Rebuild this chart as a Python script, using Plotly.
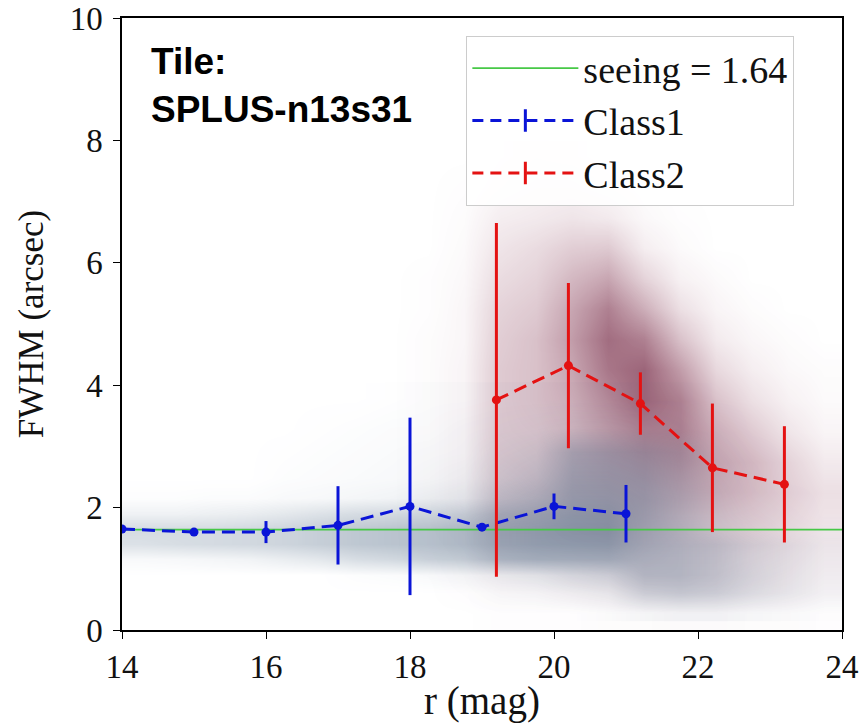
import plotly.graph_objects as go

# ---------------- data ----------------
seeing = 1.64
x_range = [14, 24]
y_range = [0, 10]
x_ticks = [14, 16, 18, 20, 22, 24]
y_ticks = [0, 2, 4, 6, 8, 10]

class1_r = [14, 15, 16, 17, 18, 19, 20, 21]
class1_fwhm = [1.65, 1.60, 1.60, 1.71, 2.02, 1.68, 2.02, 1.90]
class1_err = [0.0, 0.0, 0.18, 0.64, 1.45, 0.05, 0.21, 0.47]

class2_r = [19.2, 20.2, 21.2, 22.2, 23.2]
class2_fwhm = [3.76, 4.32, 3.70, 2.65, 2.38]
class2_err = [2.89, 1.35, 0.51, 1.05, 0.95]

# estimated point density of the background scatter clouds (read by eye)
grid_r = [14.25, 14.75, 15.25, 15.75, 16.25, 16.75, 17.25, 17.75, 18.25, 18.75,
          19.25, 19.75, 20.25, 20.75, 21.25, 21.75, 22.25, 22.75, 23.25, 23.75]
grid_fwhm_c1 = [0.3, 0.6, 0.9, 1.15, 1.4, 1.65, 1.9, 2.15, 2.5, 2.9, 3.3, 3.8]
density_c1 = [
    [0, 0, 0, 0, 0, 0, 0, 0, 0, 0, 0, 0, 0, 0.02, 0.06, 0.08, 0.08, 0.05, 0.03, 0.01],
    [0, 0, 0, 0, 0, 0, 0, 0, 0, 0, 0.03, 0.05, 0.08, 0.12, 0.3, 0.35, 0.3, 0.2, 0.12, 0.06],
    [0, 0, 0, 0, 0, 0, 0.02, 0.03, 0.05, 0.08, 0.12, 0.18, 0.25, 0.3, 0.45, 0.45, 0.35, 0.22, 0.12, 0.06],
    [0.05, 0.06, 0.08, 0.1, 0.15, 0.2, 0.28, 0.32, 0.38, 0.42, 0.55, 0.6, 0.6, 0.6, 0.5, 0.45, 0.35, 0.2, 0.12, 0.06],
    [0.25, 0.28, 0.3, 0.32, 0.35, 0.4, 0.45, 0.48, 0.5, 0.55, 0.65, 0.7, 0.72, 0.72, 0.55, 0.45, 0.35, 0.2, 0.12, 0.06],
    [0.3, 0.3, 0.3, 0.32, 0.35, 0.4, 0.45, 0.48, 0.5, 0.55, 0.65, 0.7, 0.75, 0.75, 0.55, 0.4, 0.2, 0.08, 0.03, 0.02],
    [0.12, 0.12, 0.14, 0.16, 0.2, 0.25, 0.3, 0.32, 0.35, 0.4, 0.55, 0.62, 0.7, 0.7, 0.55, 0.35, 0.15, 0.05, 0.02, 0],
    [0.02, 0.02, 0.03, 0.03, 0.05, 0.06, 0.08, 0.1, 0.14, 0.18, 0.35, 0.45, 0.62, 0.62, 0.55, 0.35, 0.12, 0.03, 0.01, 0],
    [0, 0, 0, 0, 0.02, 0.03, 0.04, 0.05, 0.07, 0.1, 0.2, 0.3, 0.55, 0.55, 0.5, 0.3, 0.08, 0.02, 0, 0],
    [0, 0, 0, 0, 0.01, 0.02, 0.03, 0.04, 0.05, 0.06, 0.12, 0.18, 0.45, 0.45, 0.4, 0.25, 0.05, 0.01, 0, 0],
    [0, 0, 0, 0, 0, 0.01, 0.02, 0.03, 0.03, 0.05, 0.06, 0.08, 0.1, 0.1, 0.08, 0.05, 0.02, 0, 0, 0],
    [0, 0, 0, 0, 0, 0, 0, 0.01, 0.02, 0.02, 0.03, 0.03, 0.03, 0.03, 0.02, 0.02, 0, 0, 0, 0],
]
grid_fwhm_c2 = [0.25, 0.75, 1.25, 1.75, 2.25, 2.75, 3.25, 3.75,
                4.25, 4.75, 5.25, 5.75, 6.25, 6.75, 7.25, 7.75]
density_c2 = [
    [0, 0, 0, 0, 0, 0, 0, 0, 0, 0, 0.01, 0.01, 0.01, 0.02, 0.02, 0.03, 0.03, 0.02, 0.02, 0.01],
    [0, 0, 0, 0, 0, 0, 0, 0, 0, 0.02, 0.05, 0.05, 0.08, 0.1, 0.15, 0.15, 0.15, 0.12, 0.1, 0.06],
    [0, 0, 0, 0, 0, 0, 0, 0, 0.01, 0.03, 0.1, 0.1, 0.12, 0.15, 0.2, 0.2, 0.2, 0.18, 0.15, 0.1],
    [0, 0, 0, 0, 0, 0, 0, 0, 0.02, 0.05, 0.2, 0.2, 0.2, 0.25, 0.3, 0.3, 0.3, 0.28, 0.22, 0.15],
    [0, 0, 0, 0, 0, 0, 0, 0, 0.02, 0.06, 0.25, 0.28, 0.3, 0.35, 0.4, 0.45, 0.45, 0.38, 0.28, 0.18],
    [0, 0, 0, 0, 0, 0, 0, 0, 0.02, 0.06, 0.28, 0.3, 0.35, 0.45, 0.55, 0.6, 0.5, 0.4, 0.25, 0.12],
    [0, 0, 0, 0, 0, 0, 0, 0, 0.02, 0.06, 0.3, 0.32, 0.4, 0.55, 0.7, 0.7, 0.45, 0.3, 0.15, 0.06],
    [0, 0, 0, 0, 0, 0, 0, 0, 0.02, 0.06, 0.3, 0.35, 0.45, 0.65, 0.85, 0.7, 0.35, 0.18, 0.08, 0.03],
    [0, 0, 0, 0, 0, 0, 0, 0, 0.02, 0.06, 0.3, 0.35, 0.5, 0.75, 0.85, 0.55, 0.22, 0.1, 0.04, 0.02],
    [0, 0, 0, 0, 0, 0, 0, 0, 0.02, 0.05, 0.28, 0.35, 0.55, 0.8, 0.7, 0.35, 0.12, 0.05, 0.02, 0],
    [0, 0, 0, 0, 0, 0, 0, 0, 0.01, 0.05, 0.25, 0.3, 0.5, 0.7, 0.45, 0.18, 0.06, 0.02, 0, 0],
    [0, 0, 0, 0, 0, 0, 0, 0, 0.01, 0.04, 0.2, 0.25, 0.4, 0.5, 0.25, 0.08, 0.03, 0, 0, 0],
    [0, 0, 0, 0, 0, 0, 0, 0, 0, 0.03, 0.15, 0.2, 0.28, 0.3, 0.1, 0.03, 0, 0, 0, 0],
    [0, 0, 0, 0, 0, 0, 0, 0, 0, 0.02, 0.1, 0.12, 0.15, 0.12, 0.04, 0.01, 0, 0, 0, 0],
    [0, 0, 0, 0, 0, 0, 0, 0, 0, 0.01, 0.05, 0.08, 0.08, 0.05, 0.02, 0, 0, 0, 0, 0],
    [0, 0, 0, 0, 0, 0, 0, 0, 0, 0, 0.03, 0.05, 0.04, 0.02, 0, 0, 0, 0, 0, 0],
]

# ---------------- styles ----------------
BLUE = "rgb(10,20,215)"
RED = "rgb(228,18,18)"
GREEN = "rgb(70,200,70)"
SERIF = "Liberation Serif, Times New Roman, serif"
DASH = "13px,7px"

fig = go.Figure()

fig.add_trace(go.Heatmap(
    x=grid_r, y=grid_fwhm_c2, z=density_c2, zmin=0, zmax=1, zsmooth="best",
    colorscale=[[0, "rgba(125,35,65,0)"], [1, "rgba(105,25,55,0.8)"]],
    showscale=False, hoverinfo="skip"))
fig.add_trace(go.Heatmap(
    x=grid_r, y=grid_fwhm_c1, z=density_c1, zmin=0, zmax=1, zsmooth="best",
    colorscale=[[0, "rgba(70,100,130,0)"], [1, "rgba(55,80,110,0.75)"]],
    showscale=False, hoverinfo="skip"))

fig.add_trace(go.Scatter(
    x=x_range, y=[seeing, seeing], mode="lines",
    line=dict(color=GREEN, width=1.6), name=f"seeing = {seeing}"))

fig.add_trace(go.Scatter(
    x=class1_r, y=class1_fwhm, mode="lines+markers",
    line=dict(color=BLUE, width=3, dash=DASH),
    marker=dict(color=BLUE, size=9),
    error_y=dict(type="data", array=class1_err, symmetric=True,
                 color=BLUE, thickness=3, width=0),
    showlegend=False))
fig.add_trace(go.Scatter(
    x=class2_r, y=class2_fwhm, mode="lines+markers",
    line=dict(color=RED, width=3, dash=DASH),
    marker=dict(color=RED, size=9),
    error_y=dict(type="data", array=class2_err, symmetric=True,
                 color=RED, thickness=3, width=0),
    showlegend=False))

# legend-only entries with the errorbar cross glyph
for nm, col in [("Class1", BLUE), ("Class2", RED)]:
    fig.add_trace(go.Scatter(
        x=[None], y=[None], mode="lines+markers", name=nm,
        line=dict(color=col, width=3, dash="11px,7px"),
        marker=dict(symbol="line-ns", size=16, line=dict(color=col, width=3))))

fig.add_annotation(
    xref="paper", yref="paper", x=0.038, y=0.965, xanchor="left", yanchor="top",
    text="<b>Tile:<br>SPLUS-n13s31</b>", showarrow=False, align="left",
    font=dict(family="Liberation Sans, Arial, sans-serif", size=37, color="black"))

axis_common = dict(
    showline=True, linecolor="black", linewidth=1.5, mirror=True,
    ticks="outside", ticklen=7, tickwidth=1.3, tickcolor="black",
    showgrid=False, zeroline=False, automargin=False,
    ticklabeloverflow="allow",
    tickfont=dict(family=SERIF, size=33, color="#111"),
)
fig.update_xaxes(range=x_range, tickvals=x_ticks, **axis_common,
                 title=dict(text="r (mag)", font=dict(family=SERIF, size=39, color="#111"),
                            standoff=6))
fig.update_yaxes(range=y_range, tickvals=y_ticks, ticklabelstandoff=4, **axis_common,
                 title=dict(text="FWHM (arcsec)", font=dict(family=SERIF, size=35, color="#111")))

fig.update_layout(
    width=866, height=723,
    margin=dict(l=122, r=24, t=18, b=93),
    plot_bgcolor="white", paper_bgcolor="white",
    legend=dict(x=0.478, y=0.971, xanchor="left", yanchor="top",
                bgcolor="rgba(255,255,255,0.85)", bordercolor="#cccccc", borderwidth=1.2,
                font=dict(family=SERIF, size=38, color="#111"),
                itemwidth=106, tracegroupgap=0),
)

# remove the page's default body margin so the figure fills the window exactly
fig.write_html("out.html",
               config={"displayModeBar": False},
               post_script="document.body.style.margin='0px';"
                           "document.body.style.overflow='hidden';")
